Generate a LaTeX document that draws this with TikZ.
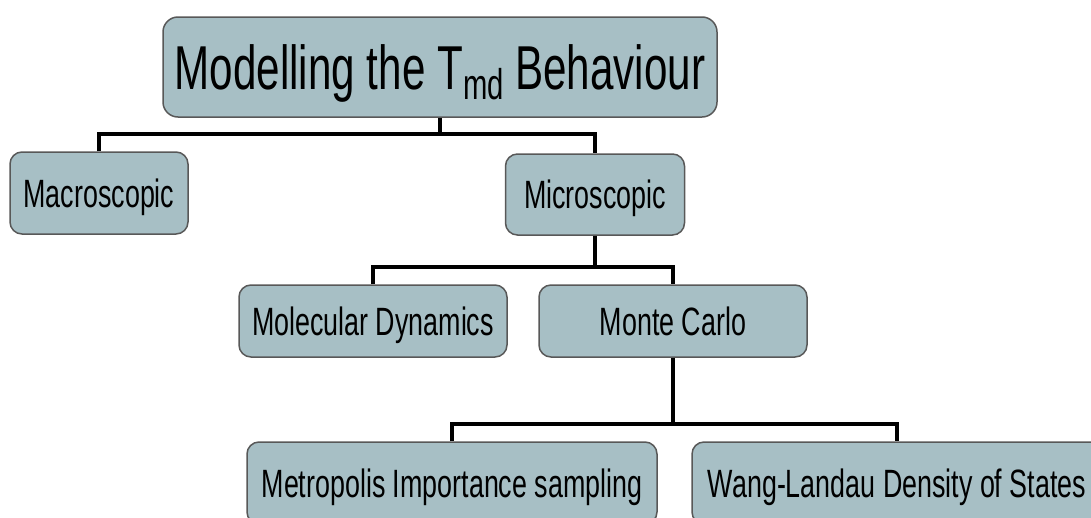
\documentclass[tikz,border=0pt]{standalone}
\usepackage{fontspec}
\setmainfont{Liberation Sans}[FakeStretch=0.68]
\definecolor{boxfill}{RGB}{167,191,197}
\definecolor{boxline}{RGB}{88,88,88}
\begin{document}
\begin{tikzpicture}[x=1pt,y=-1pt,
  box/.style={draw=boxline, line width=1.5pt, fill=boxfill, rounded corners=12pt,
    inner sep=0pt, text height=28pt, text depth=0pt,
    font=\fontsize{39.5}{40}\selectfont},
  titlebox/.style={box, rounded corners=15pt, text height=44pt,
    font=\fontsize{62}{62}\selectfont},
  link/.style={line width=3.3pt, line join=miter, black}]
\useasboundingbox (0,0) rectangle (1091,517);
\clip (0,0) rectangle (1091,517);
\fill[white] (0,0) rectangle (1091,517);

% boxes
\node[titlebox, minimum width=554pt, minimum height=100pt] (title) at (440,67)
  {Modelling the T\raisebox{-10pt}{\fontsize{43}{43}\selectfont md} Behaviour};
\node[box, minimum width=178pt, minimum height=82pt] (macro) at (99,193) {Macroscopic};
\node[box, minimum width=179pt, minimum height=81pt] (micro) at (595,194.5) {Microscopic};
\node[box, minimum width=268pt, minimum height=72pt] (md) at (373,321) {Molecular Dynamics};
\node[box, minimum width=268pt, minimum height=72pt] (mc) at (673,321) {Monte Carlo};
\node[box, minimum width=410pt, minimum height=82pt] (metro) at (452,483) {Metropolis Importance sampling};
\node[box, minimum width=410pt, minimum height=82pt] (wang) at (897,483) {Wang-Landau Density of States};

% bus junctions
\coordinate (bus1) at (440,134);
\coordinate (bus2) at (595,267);
\coordinate (bus3) at (673,424);

% connectors
\draw[link] (title.south) -- (bus1);
\draw[link] (macro.north) |- (bus1) -| (micro.north);
\draw[link] (micro.south) -- (bus2);
\draw[link] (md.north) |- (bus2) -| (mc.north);
\draw[link] (mc.south) -- (bus3);
\draw[link] (metro.north) |- (bus3) -| (wang.north);
\end{tikzpicture}
\end{document}
